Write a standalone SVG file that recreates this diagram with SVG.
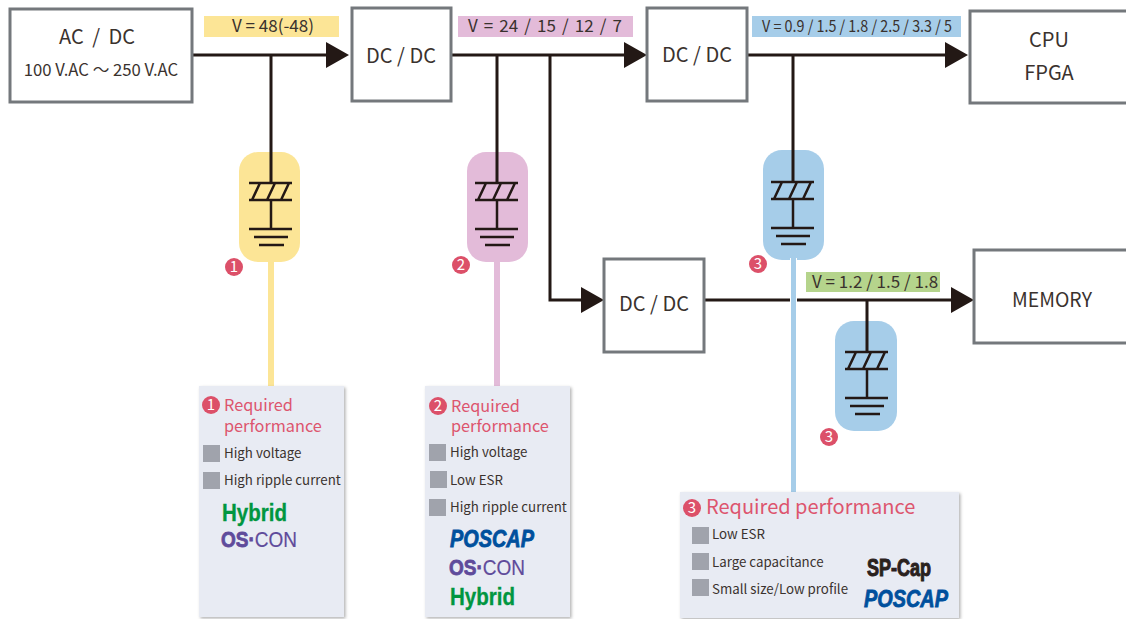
<svg xmlns="http://www.w3.org/2000/svg" width="1126" height="619" viewBox="0 0 1126 619">
<style>
text{font-family:"Noto Sans CJK JP","Noto Sans",sans-serif;fill:#3a322e}
.box{fill:#fff;stroke:#74787c;stroke-width:3}
.w{stroke:#231815;stroke-width:3;fill:none}
.c{stroke:#231815;stroke-width:2.500;fill:none}
.t{font-size:20px;text-anchor:middle}
.v{font-size:17px;text-anchor:middle}
.h{font-size:16.300px;fill:#dd556e}
.i{font-size:13.300px}
.sq{fill:#a0a3ac}
.panel{fill:#e8ebf3;filter:url(#sh)}
.num{fill:#dc5069}
.numt{font-size:15px;fill:#fff;text-anchor:middle}
.hy,.os,.po,.sp{font-family:"Liberation Sans",sans-serif;font-weight:700}
.hy{font-size:23px;fill:#009640;stroke:#009640;stroke-width:.3}
.os{font-size:22px;fill:#5f4b9b;stroke:#5f4b9b;stroke-width:.8}
.os tspan{font-weight:400;stroke-width:.2}
.po{font-size:23px;font-style:italic;fill:#00509d;stroke:#00509d;stroke-width:.8}
.sp{font-size:23px;fill:#2a211d;stroke:#2a211d;stroke-width:1}
</style>
<defs>
<filter id="sh" x="-5%" y="-5%" width="110%" height="110%"><feDropShadow dx="1.500" dy="1.500" stdDeviation="1.500" flood-color="#000" flood-opacity=".3"/></filter>
<path id="cap" class="c" d="M-22 -17H21M-22 0H21M-19 0L-11 -17M-4 0L4 -17M10 0L18 -17M0 0V29M-22 29H21M-17 37H17M-12 45H13"/>
</defs>
<g id="stems">
<rect x="268" y="260" width="6" height="127" fill="#fce596"/>
<rect x="494" y="260" width="6" height="127" fill="#e3bbd9"/>
</g>
<g id="labels">
<rect x="204" y="16" width="135" height="21" fill="#fce596"/><text class="v" x="273" y="32">V = 48(-48)</text>
<rect x="458" y="16" width="175" height="21" fill="#e3bbd9"/><text class="v" x="545" y="32" word-spacing="2.300">V = 24 / 15 / 12 / 7</text>
<rect x="752" y="16" width="209" height="21" fill="#a6cde9"/><text x="762" y="32" font-size="16" textLength="190" lengthAdjust="spacingAndGlyphs">V = 0.9 / 1.5 / 1.8 / 2.5 / 3.3 / 5</text>
<rect x="806" y="272" width="134" height="20" fill="#b5d48c"/><text class="v" x="875" y="288">V = 1.2 / 1.5 / 1.8</text>
</g>
<g id="capsules">
<rect x="239" y="152" width="61" height="110" rx="19" fill="#fce596"/>
<rect x="467" y="152" width="61" height="110" rx="19" fill="#e3bbd9"/>
<rect x="763" y="150" width="61" height="110" rx="19" fill="#a6cde9"/>
<rect x="835" y="321" width="62" height="110" rx="19" fill="#a6cde9"/>
</g>
<g id="connectors">
<path class="w" d="M193 55H330M271 55V183M451 55H628M497 55V183M550 55V300H584M748 55H948M793 55V182M705 300H954M867 300V352"/>
<path fill="#231815" d="M326 42L349 55L326 68ZM624 42L647 55L624 68ZM945 42L968 55L945 68ZM581 287L604 300L581 313ZM951 287L974 300L951 313Z"/>
</g>
<g id="stem3"><rect x="790" y="258" width="7" height="235" fill="#fff"/><rect x="791" y="258" width="5" height="235" fill="#a6cde9"/></g>
<g id="cap1"><use href="#cap" x="271" y="200"/><circle class="num" cx="234" cy="267" r="9"/><text class="numt" x="234" y="272">1</text></g>
<g id="cap2"><use href="#cap" x="497" y="200"/><circle class="num" cx="461" cy="265" r="9"/><text class="numt" x="461" y="270">2</text></g>
<g id="cap3"><use href="#cap" x="793" y="199"/><circle class="num" cx="758" cy="264" r="9"/><text class="numt" x="758" y="269">3</text></g>
<g id="cap4"><use href="#cap" x="867" y="369"/><circle class="num" cx="829" cy="437" r="9"/><text class="numt" x="829" y="442">3</text></g>
<g id="acdc"><rect class="box" x="10" y="9" width="182" height="93"/><text class="t" x="97" y="44" word-spacing="4">AC / DC</text><text x="101" y="76" text-anchor="middle" font-size="16.700">100 V.AC ～ 250 V.AC</text></g>
<g id="dcdc1"><rect class="box" x="352" y="8" width="99" height="93"/><text class="t" x="401" y="63">DC / DC</text></g>
<g id="dcdc2"><rect class="box" x="647" y="8" width="100" height="93"/><text class="t" x="697" y="62">DC / DC</text></g>
<g id="dcdc3"><rect class="box" x="604" y="259" width="100" height="93"/><text class="t" x="654" y="311">DC / DC</text></g>
<g id="cpu"><rect class="box" x="970" y="11" width="160" height="92"/><text class="t" x="1049" y="47">CPU</text><text class="t" x="1049" y="80">FPGA</text></g>
<g id="memory"><rect class="box" x="974" y="250" width="156" height="93"/><text class="t" x="1052" y="307" style="font-size:19.400px">MEMORY</text></g>
<g id="panel1"><rect class="panel" x="199" y="386" width="145" height="231"/>
<circle class="num" cx="211" cy="405" r="9"/><text class="numt" x="211" y="410">1</text>
<text class="h" x="224" y="411">Required<tspan x="224" y="432">performance</tspan></text>
<rect class="sq" x="203" y="445" width="17" height="17"/><text class="i" x="224" y="458">High voltage</text>
<rect class="sq" x="203" y="472" width="17" height="17"/><text class="i" x="224" y="485">High ripple current</text>
<text class="hy" x="222" y="521" textLength="65" lengthAdjust="spacingAndGlyphs">Hybrid</text><text class="os" x="221" y="547" textLength="76" lengthAdjust="spacingAndGlyphs">OS·<tspan>CON</tspan></text></g>
<g id="panel2"><rect class="panel" x="425" y="386" width="145" height="231"/>
<circle class="num" cx="438" cy="406" r="9"/><text class="numt" x="438" y="411">2</text>
<text class="h" x="451" y="412">Required<tspan x="451" y="432">performance</tspan></text>
<rect class="sq" x="429" y="444" width="17" height="17"/><text class="i" x="450" y="457">High voltage</text>
<rect class="sq" x="430" y="471" width="17" height="17"/><text class="i" x="450" y="485">Low ESR</text>
<rect class="sq" x="429" y="499" width="17" height="17"/><text class="i" x="450" y="512">High ripple current</text>
<text class="po" x="450" y="547" textLength="84" lengthAdjust="spacingAndGlyphs">POSCAP</text><text class="os" x="449" y="575" textLength="76" lengthAdjust="spacingAndGlyphs">OS·<tspan>CON</tspan></text><text class="hy" x="450" y="605" textLength="65" lengthAdjust="spacingAndGlyphs">Hybrid</text></g>
<g id="panel3"><rect class="panel" x="680" y="492" width="279" height="126"/>
<circle class="num" cx="692" cy="508" r="9"/><text class="numt" x="692" y="513">3</text>
<text x="706" y="514" font-size="20" style="fill:#dd556e">Required performance</text>
<rect class="sq" x="692" y="527" width="17" height="17"/><text class="i" x="712" y="539">Low ESR</text>
<rect class="sq" x="692" y="553" width="17" height="17"/><text class="i" x="712" y="567">Large capacitance</text>
<rect class="sq" x="692" y="579" width="17" height="17"/><text class="i" x="712" y="594">Small size/Low profile</text>
<text class="sp" x="867" y="576" textLength="64" lengthAdjust="spacingAndGlyphs">SP-Cap</text><text class="po" x="864" y="607" textLength="84" lengthAdjust="spacingAndGlyphs">POSCAP</text></g>
</svg>
